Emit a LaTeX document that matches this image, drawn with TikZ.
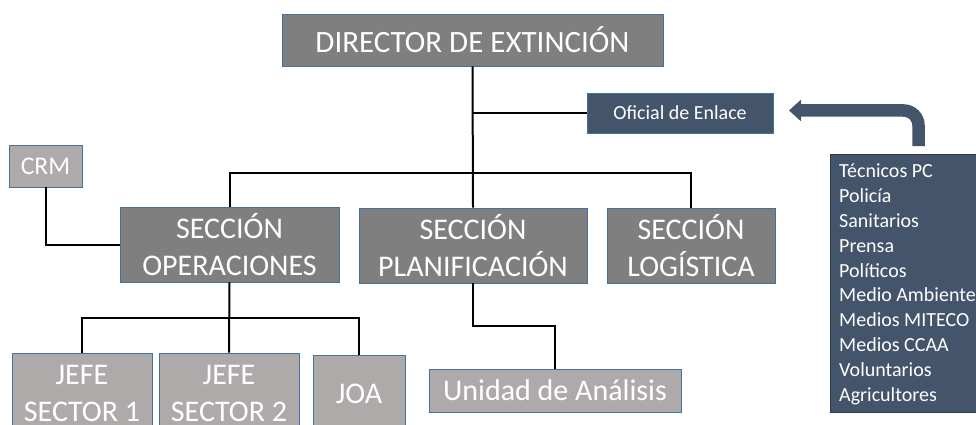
\documentclass[tikz,border=0pt]{standalone}
\usepackage{fontspec}
\setmainfont{Carlito}
\usetikzlibrary{arrows.meta,positioning}
\definecolor{boxgray}{HTML}{7F7F7F}
\definecolor{lightgray}{HTML}{AEAAAA}
\definecolor{slate}{HTML}{44546A}
\definecolor{edgeblue}{HTML}{41719C}
\definecolor{slateedge}{HTML}{2F3B4B}
\tikzset{
  box/.style={draw=edgeblue, line width=0.8pt, text=white, inner sep=0pt, align=center},
  darkbox/.style={box, fill=boxgray, font={\fontsize{30}{37.5}\selectfont}},
  litebox/.style={box, fill=lightgray, font={\fontsize{30}{37.5}\selectfont}},
  slatebox/.style={box, fill=slate},
  conn/.style={draw=black, line width=2pt},
  bigarrow/.style={draw=slate, line width=12.5pt, rounded corners=15pt, -{Triangle[width=21pt,length=12pt]}}
}
\begin{document}
\begin{tikzpicture}[x=1pt,y=-1pt]
\useasboundingbox (0,0) rectangle (976,425);
\clip (0,0) rectangle (976,425);
\fill[white] (0,0) rectangle (976,425);

% nodes
\node[darkbox, minimum width=381pt, minimum height=52pt, font={\fontsize{31}{37}\selectfont}] (dir) at (472.5,40) {DIRECTOR DE EXTINCIÓN};
\node[slatebox, minimum width=186pt, minimum height=40pt, font={\fontsize{20}{24}\selectfont}] (ofi) at (680,113) {Oficial de Enlace};
\node[litebox, minimum width=73pt, minimum height=42pt, font={\fontsize{25.5}{30}\selectfont}] (crm) at (45.5,166) {CRM};
\node[darkbox, minimum width=219pt, minimum height=75pt] (ops) at (229.5,244.5) {SECCIÓN\\OPERACIONES};
\node[darkbox, minimum width=228pt, minimum height=75pt] (plan) at (473,245.5) {SECCIÓN\\PLANIFICACIÓN};
\node[darkbox, minimum width=168pt, minimum height=75pt] (log) at (691,245.5) {SECCIÓN\\LOGÍSTICA};
\node[litebox, minimum width=252pt, minimum height=43pt] (uni) at (555,390.5) {Unidad de Análisis};
\node[litebox, minimum width=140pt, minimum height=81pt] (j1) at (82,393.5) {JEFE\\SECTOR 1};
\node[litebox, minimum width=140pt, minimum height=81pt] (j2) at (229,393.5) {JEFE\\SECTOR 2};
\node[litebox, minimum width=92pt, minimum height=77pt] (joa) at (359,393.5) {JOA};
\node[slatebox, draw=slateedge, anchor=north west, minimum width=180pt, minimum height=258pt] (lst) at (830,154) {};
\node[anchor=north west, align=left, inner sep=0pt, text=white,
      font={\fontsize{20}{24.8}\selectfont}] (lsttxt) at ([xshift=9pt,yshift=-10pt]lst.north west)
  {Técnicos PC\\Policía\\Sanitarios\\Prensa\\Políticos\\Medio Ambiente\\Medios MITECO\\Medios CCAA\\Voluntarios\\Agricultores};

% connectors
\draw[conn] (dir.south) -- (plan.north);
\draw[conn] (dir.south |- ofi.west) -- (ofi.west);
\draw[conn] (ops.north) |- (473,173) -| (log.north);
\draw[conn] (crm.south) |- (ops.west);
\draw[conn] (ops.south) -- (j2.north);
\draw[conn] (j1.north) |- (229,318) -| (joa.north);
\draw[conn] (plan.south) -- ++(0,43) -| (uni.north);

% big arrow
\coordinate (arrBase) at (918.5,146);
\coordinate (arrTip) at (789,110.5);
\draw[bigarrow] (arrBase) -- (arrBase |- arrTip) -- (arrTip);
\end{tikzpicture}
\end{document}
